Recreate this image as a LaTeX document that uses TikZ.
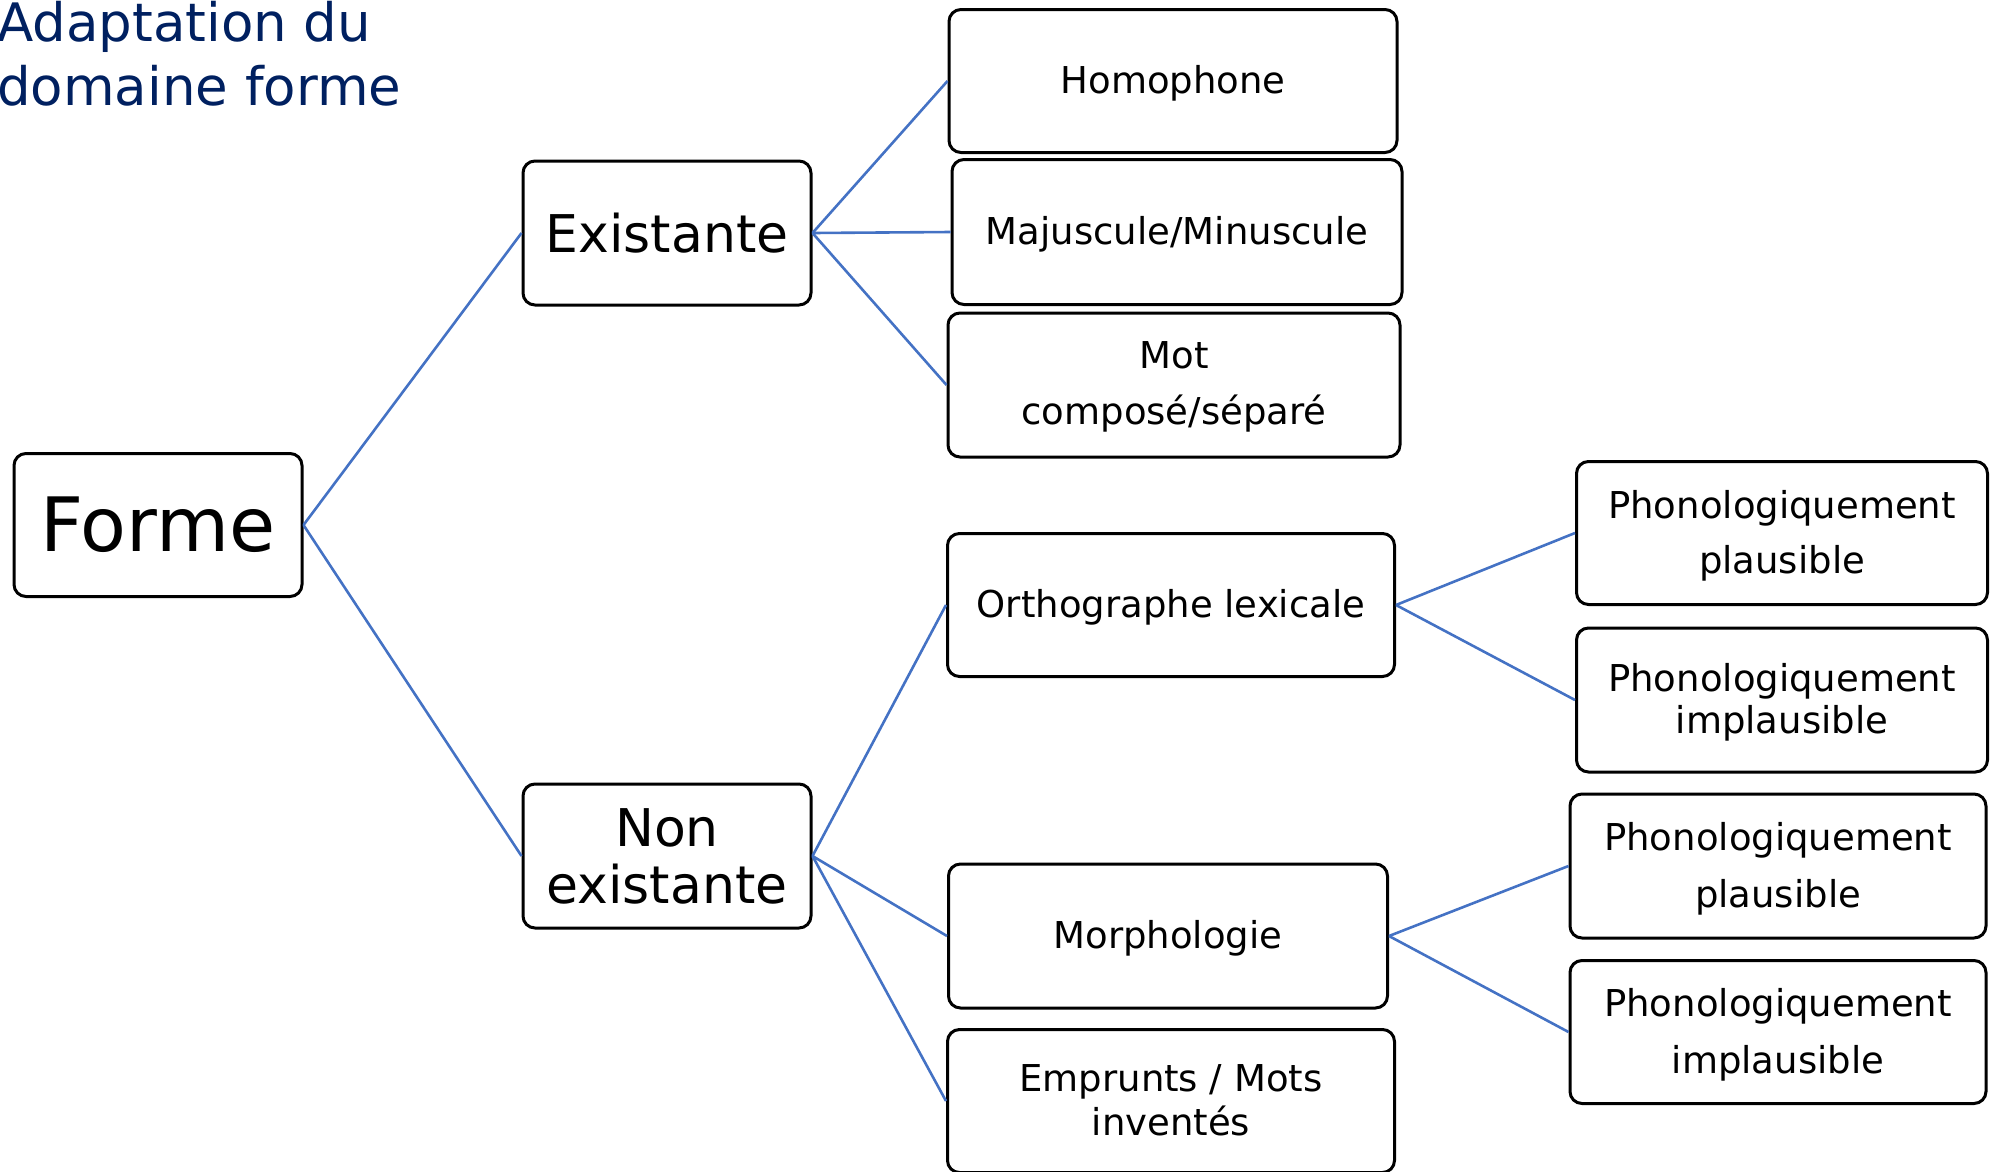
\documentclass[tikz,border=0pt]{standalone}
\usepackage{fontspec}
\setmainfont{DejaVu Sans}
\usepackage{tikz}
\usetikzlibrary{positioning,calc}
\definecolor{titreblue}{RGB}{0,32,96}
\definecolor{lienblue}{RGB}{68,114,196}
\tikzset{
  boite/.style={draw=black,line width=3pt,rounded corners=12pt,align=center,inner sep=0pt,fill=white},
  grand/.style={font=\fontsize{75}{90}\selectfont},
  moyen/.style={font=\fontsize{52}{57}\selectfont},
  petit/.style={font=\fontsize{37}{44}\selectfont,text depth=3pt},
}

\begin{document}
\begin{tikzpicture}[x=1pt,y=-1pt]

    \useasboundingbox (0,0) rectangle (1990,1171);

    \node [anchor=north west,inner sep=0pt,align=left,text=titreblue,font=\fontsize{53}{64}\selectfont] (titre) at (-3,1) {Adaptation du\\domaine forme};

    \node [boite,grand,minimum width=288pt,minimum height=143pt] (forme) at (158,525) {Forme};
    \node [boite,moyen,minimum width=288pt,minimum height=144pt] (exist) at (667,233) {Existante};
    \node [boite,moyen,minimum width=288pt,minimum height=144pt] (nonex) at (667,856) {Non\\existante};

    \node [boite,petit,minimum width=448pt,minimum height=143pt] (homo) at (1173,81) {Homophone};
    \node [boite,petit,minimum width=450pt,minimum height=145pt] (maj) at (1177,232) {Majuscule/Minuscule};
    \node [boite,petit,minimum width=452pt,minimum height=144pt] (mot) at (1174,385) {Mot\\[12pt]composé/séparé};

    \node [boite,petit,minimum width=447pt,minimum height=143pt] (ortho) at (1171,605) {Orthographe lexicale};
    \node [boite,petit,minimum width=439pt,minimum height=144pt] (morpho) at (1168,936) {Morphologie};
    \node [boite,petit,minimum width=447pt,minimum height=143pt] (empr) at (1171,1101) {Emprunts / Mots\\inventés};

    \node [boite,petit,minimum width=411pt,minimum height=143pt] (pp1) at (1782,533) {Phonologiquement\\[11pt]plausible};
    \node [boite,petit,minimum width=411pt,minimum height=144pt] (pi1) at (1782,700) {Phonologiquement\\[-2pt]implausible};
    \node [boite,petit,minimum width=416pt,minimum height=144pt] (pp2) at (1778,866) {Phonologiquement\\[13pt]plausible};
    \node [boite,petit,minimum width=416pt,minimum height=143pt] (pi2) at (1778,1032) {Phonologiquement\\[13pt]implausible};

    \begin{scope}[line width=2.6pt,color=lienblue]
    \draw (forme.east) to (exist.west);
    \draw (forme.east) to (nonex.west);
    \draw (exist.east) to (homo.west);
    \draw (exist.east) to (maj.west);
    \draw (exist.east) to (mot.west);
    \draw (nonex.east) to (ortho.west);
    \draw (nonex.east) to (morpho.west);
    \draw (nonex.east) to (empr.west);
    \draw (ortho.east) to (pp1.west);
    \draw (ortho.east) to (pi1.west);
    \draw (morpho.east) to (pp2.west);
    \draw (morpho.east) to (pi2.west);
    \end{scope}

\end{tikzpicture}
\end{document}
